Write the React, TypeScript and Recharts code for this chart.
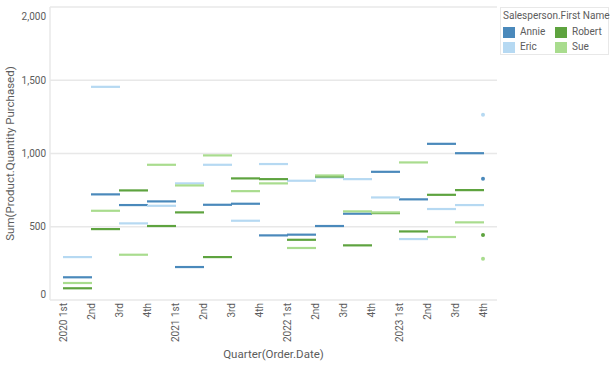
import React from "react";
import { LineChart, Line, XAxis, YAxis, CartesianGrid } from "recharts";

const quarterLabels = ["2020 1st", "2nd", "3rd", "4th", "2021 1st", "2nd", "3rd", "4th", "2022 1st", "2nd", "3rd", "4th", "2023 1st", "2nd", "3rd", "4th"];
const annie = [155, 721, 648, 673, 225, 650, 657, 441, 446, 505, 589, 875, 687, 1066, 1002, 827];
const eric = [293, 1455, 523, 643, 796, 923, 541, 928, 814, 837, 825, 700, 416, 621, 648, 1264];
const robert = [80, 484, 748, 505, 598, 293, 830, 825, 411, 843, 373, 593, 468, 718, 750, 443];
const sue = [116, 609, 309, 923, 782, 987, 743, 796, 355, 850, 605, 598, 939, 430, 530, 282];
const yTicks = [0, 500, 1000, 1500, 2000];

const seriesNames = ["Annie", "Eric", "Robert", "Sue"];
const seriesColors: Record<string, string> = {
  Annie: "#4a89bb",
  Eric: "#b6d9f2",
  Robert: "#5ea33f",
  Sue: "#a9dc8e",
};
const legendOrder = [["Annie", "Robert"], ["Eric", "Sue"]];

const data = quarterLabels.map((q, i) => ({
  idx: i,
  Annie: annie[i],
  Eric: eric[i],
  Robert: robert[i],
  Sue: sue[i],
}));

const FONT = "Roboto, 'Noto Sans', sans-serif";
const TEXT = "#5c5c5c";
const FRAME = "#e8e8e8";

const makeDot = (color: string) => (props: any) => {
  const { cx, cy, index, points, dataKey } = props;
  const key = `d-${dataKey}-${index}`;
  if (cx == null || cy == null) return <g key={key} />;
  const next = points && points[index + 1];
  if (next && next.x != null) {
    return <line key={key} x1={cx} y1={cy} x2={next.x + 1} y2={cy} stroke={color} strokeWidth={2.2} />;
  }
  return <circle key={key} cx={cx} cy={cy} r={2} fill={color} />;
};

const YTick = (props: any) => {
  const { x, y, payload } = props;
  let dy = 0;
  if (payload.value === 2000) dy = 7;
  if (payload.value === 0) dy = -6;
  return (
    <text x={x} y={y + dy} dy="0.35em" textAnchor="end" fontSize={10} fill={TEXT} fontFamily={FONT}>
      {Number(payload.value).toLocaleString("en-US")}
    </text>
  );
};

const XTick = (props: any) => {
  const { x, y, payload } = props;
  const label = quarterLabels[payload.value] ?? "";
  return (
    <text
      x={x}
      y={y}
      dy="0.35em"
      textAnchor="end"
      fontSize={10}
      fill={TEXT}
      fontFamily={FONT}
      transform={`rotate(-90, ${x}, ${y})`}
    >
      {label}
    </text>
  );
};

export default function App() {
  return (
    <div style={{ position: "absolute", left: 0, top: 0, width: 615, height: 365, background: "#fff" }}>
      <LineChart width={615} height={365} data={data} margin={{ top: 7, right: 118, bottom: 0, left: 0 }}>
        <CartesianGrid vertical={false} stroke={FRAME} strokeWidth={1.5} />
        <XAxis
          dataKey="idx"
          type="category"
          interval={0}
          padding={{ left: 13, right: 14 }}
          tickLine={false}
          axisLine={false}
          tickSize={0}
          tickMargin={3}
          height={65}
          tick={<XTick />}
          label={{ value: "Quarter(Order.Date)", position: "insideBottom", offset: 7, fontSize: 11.5, fill: TEXT, fontFamily: FONT }}
        />
        <YAxis
          domain={[0, 2000]}
          ticks={yTicks}
          width={50}
          tickLine={false}
          axisLine={{ stroke: FRAME, strokeWidth: 1.5 }}
          tickSize={2}
          tickMargin={2}
          tick={<YTick />}
          label={{ value: "Sum(Product.Quantity Purchased)", angle: -90, position: "insideLeft", offset: 10, style: { textAnchor: "middle" }, fontSize: 11.5, fill: TEXT, fontFamily: FONT }}
        />
        <YAxis
          yAxisId="frame"
          orientation="right"
          domain={[0, 2000]}
          width={0}
          tick={false}
          tickLine={false}
          axisLine={{ stroke: FRAME, strokeWidth: 1.5 }}
        />
        {seriesNames.map((name) => (
          <Line
            key={name}
            dataKey={name}
            stroke="none"
            dot={makeDot(seriesColors[name])}
            activeDot={false}
            isAnimationActive={false}
            legendType="none"
          />
        ))}
      </LineChart>
      <div
        style={{
          position: "absolute",
          left: 500,
          top: 7,
          width: 109,
          height: 48,
          border: `1px solid ${FRAME}`,
          fontFamily: FONT,
          fontSize: 10,
          color: TEXT,
          boxSizing: "border-box",
        }}
      >
        <div style={{ position: "absolute", left: 2, top: 2, whiteSpace: "nowrap", lineHeight: "12px" }}>Salesperson.First Name</div>
        {legendOrder.map((row, r) =>
          row.map((name, c) => (
            <div key={name} style={{ position: "absolute", left: 2 + c * 52, top: 18 + r * 15, height: 12, display: "flex", alignItems: "center", whiteSpace: "nowrap" }}>
              <div style={{ width: 12, height: 11, background: seriesColors[name], marginRight: 5 }} />
              <span style={{ lineHeight: "12px" }}>{name}</span>
            </div>
          ))
        )}
      </div>
    </div>
  );
}
